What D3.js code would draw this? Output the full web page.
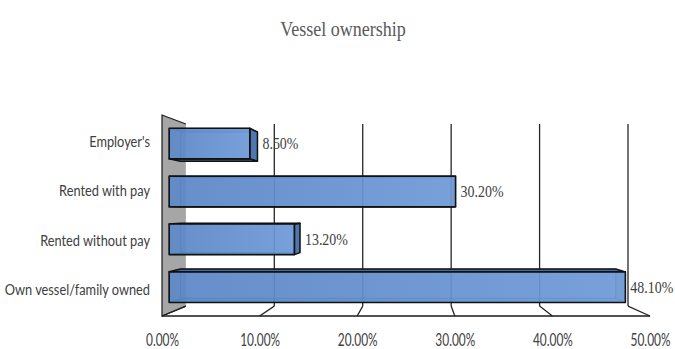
<!DOCTYPE html>
<html>
<head>
<meta charset="utf-8">
<script src="https://cdn.jsdelivr.net/npm/d3@7/dist/d3.min.js"></script>
<style>
  html, body { margin: 0; padding: 0; background: #fff; }
  svg { display: block; }
</style>
</head>
<body>
<svg id="chart" width="675" height="349"></svg>
<script>
// Vessel ownership — share of respondents by ownership type
const chartTitle = "Vessel ownership";
const categories = ["Employer's", "Rented with pay", "Rented without pay", "Own vessel/family owned"];
const shares = [8.5, 30.2, 13.2, 48.1];           // percent
const tickValues = [0, 10, 20, 30, 40, 50];
const tickLabels = ["0.00%", "10.00%", "20.00%", "30.00%", "40.00%", "50.00%"];

const svg = d3.select("#chart");
const fmt = v => d3.format(".2f")(v) + "%";

// Front-plane scales (depth 0); deeper points are pulled toward the vanishing point
const x = d3.scaleLinear().domain([0, 50]).range([162, 650]);
const y = d3.scaleBand().domain(categories).range([115, 316])
  .paddingInner(0.36).paddingOuter(0.22);
const yTop = 115, yBottom = 316;

const VP = { x: 416, y: 210.6 };
const BACK_SCALE = 0.906;
const depthScale = z => 1 / (1 + z * (1 / BACK_SCALE - 1));
const proj = (X, Y, z) => {
  const s = depthScale(z);
  return [VP.x + (X - VP.x) * s, VP.y + (Y - VP.y) * s];
};
const poly = pts => "M" + pts.map(p => p.join(",")).join("L") + "Z";

// Title
svg.append("text")
  .attr("transform", "translate(343,36) scale(0.9,1)")
  .attr("text-anchor", "middle")
  .attr("font-family", "'Liberation Serif', 'Times New Roman', serif")
  .attr("font-size", 20)
  .attr("fill", "#595959")
  .text(chartTitle);

// Side wall
svg.append("path")
  .attr("d", poly([proj(x(0), yTop, 0), proj(x(0), yTop, 1), proj(x(0), yBottom, 1), proj(x(0), yBottom, 0)]))
  .attr("fill", "#a6a6a6")
  .attr("stroke", "none");
svg.append("path")
  .attr("d", "M" + proj(x(0), yTop, 1).join(",") + "L" + proj(x(0), yTop, 0).join(",") +
             "L" + proj(x(0), yBottom, 0).join(",") + "L" + proj(x(0), yBottom, 1).join(","))
  .attr("fill", "none")
  .attr("stroke", "#1a1a1a")
  .attr("stroke-width", 1.2);

// Back-wall gridlines and their floor continuations
const grid = svg.append("g").attr("fill", "none").attr("stroke", "#262626").attr("stroke-width", 1.3);
tickValues.forEach(t => {
  if (t > 0) {
    const a = proj(x(t), yTop, 1), b = proj(x(t), yBottom, 1);
    grid.append("line").attr("x1", a[0]).attr("y1", a[1]).attr("x2", b[0]).attr("y2", b[1]);
  }
  const c = proj(x(t), yBottom, 1), d = proj(x(t), yBottom, 0);
  grid.append("line").attr("x1", c[0]).attr("y1", c[1]).attr("x2", d[0]).attr("y2", d[1]);
});
// Floor front edge
const f0 = proj(x(0), yBottom, 0), f1 = proj(x(50), yBottom, 0);
svg.append("line").attr("x1", f0[0]).attr("y1", f0[1]).attr("x2", f1[0]).attr("y2", f1[1])
  .attr("stroke", "#1a1a1a").attr("stroke-width", 1.6);

// Bars as semi-transparent boxes
const defs = svg.append("defs");
const grad = defs.append("linearGradient").attr("id", "barFront")
  .attr("x1", "0%").attr("x2", "100%").attr("y1", "0%").attr("y2", "0%");
grad.append("stop").attr("offset", "0%").attr("stop-color", "#5a86c6");
grad.append("stop").attr("offset", "100%").attr("stop-color", "#6f9bd8");

const Z0 = 0.28, Z1 = 0.76;
const bars = svg.append("g");
categories.forEach((cat, i) => {
  const v = shares[i];
  const X0 = x(0), X1 = x(v), Y0 = y(cat), Y1 = Y0 + y.bandwidth();
  const P = (X, Y, z) => proj(X, Y, z);
  const g = bars.append("g");
  const faces = [
    { pts: [P(X0, Y0, Z1), P(X1, Y0, Z1), P(X1, Y1, Z1), P(X0, Y1, Z1)], vis: false, fill: "#6a95d2" },
    { pts: [P(X0, Y0, Z0), P(X0, Y0, Z1), P(X0, Y1, Z1), P(X0, Y1, Z0)], vis: X0 > VP.x, fill: "#86abe0" },
    { pts: [P(X1, Y0, Z0), P(X1, Y0, Z1), P(X1, Y1, Z1), P(X1, Y1, Z0)], vis: X1 < VP.x, fill: "#4a72ad" },
    { pts: [P(X0, Y0, Z0), P(X1, Y0, Z0), P(X1, Y0, Z1), P(X0, Y0, Z1)], vis: Y0 > VP.y, fill: "#3f66a3" },
    { pts: [P(X0, Y1, Z0), P(X1, Y1, Z0), P(X1, Y1, Z1), P(X0, Y1, Z1)], vis: Y1 < VP.y, fill: "#3f66a3" }
  ];
  // hidden faces first, seen faintly through the front
  faces.filter(f => !f.vis).forEach(f => {
    g.append("path").attr("d", poly(f.pts))
      .attr("fill", f.fill).attr("fill-opacity", 0.55)
      .attr("stroke", "#2c4f85").attr("stroke-opacity", 0.45).attr("stroke-width", 1);
  });
  faces.filter(f => f.vis).forEach(f => {
    g.append("path").attr("d", poly(f.pts))
      .attr("fill", f.fill).attr("fill-opacity", 0.95)
      .attr("stroke", "#111").attr("stroke-width", 1.5).attr("stroke-linejoin", "round");
  });
  g.append("path")
    .attr("d", poly([P(X0, Y0, Z0), P(X1, Y0, Z0), P(X1, Y1, Z0), P(X0, Y1, Z0)]))
    .attr("fill", "url(#barFront)").attr("fill-opacity", 0.86)
    .attr("stroke", "#111").attr("stroke-width", 1.6).attr("stroke-linejoin", "round");

  // value label, right of the bar's outermost edge
  const rightEdge = Math.max(P(X1, Y0, Z0)[0], P(X1, Y0, Z1)[0]);
  const cy = P(X1, Y0 + y.bandwidth() / 2, Z0)[1];
  svg.append("text")
    .attr("transform", `translate(${rightEdge + 5},${cy}) scale(0.87,1)`)
    .attr("dy", "0.35em")
    .attr("font-family", "'Liberation Serif', 'Times New Roman', serif")
    .attr("font-size", 16)
    .attr("fill", "#404040")
    .text(fmt(v));
});

// Category labels
svg.append("g").selectAll("text").data(categories).join("text")
  .attr("transform", d => `translate(150,${y(d) + y.bandwidth() / 2}) scale(0.8,1)`)
  .attr("dy", "0.35em")
  .attr("text-anchor", "end")
  .attr("font-family", "Lato, 'Open Sans', sans-serif")
  .attr("font-size", 16)
  .attr("fill", "#404040")
  .text(d => d);

// Value axis labels along the front edge of the floor
const axis = d3.axisBottom(x).tickValues(tickValues)
  .tickFormat((d, i) => tickLabels[i]).tickSize(0).tickPadding(3);
const axG = svg.append("g").attr("transform", "translate(0,331)").call(axis);
axG.select(".domain").remove();
axG.selectAll("text")
  .attr("font-family", "Lato, 'Open Sans', sans-serif")
  .attr("font-size", 17)
  .attr("fill", "#404040")
  .attr("transform", "scale(0.7,1)");
</script>
</body>
</html>
